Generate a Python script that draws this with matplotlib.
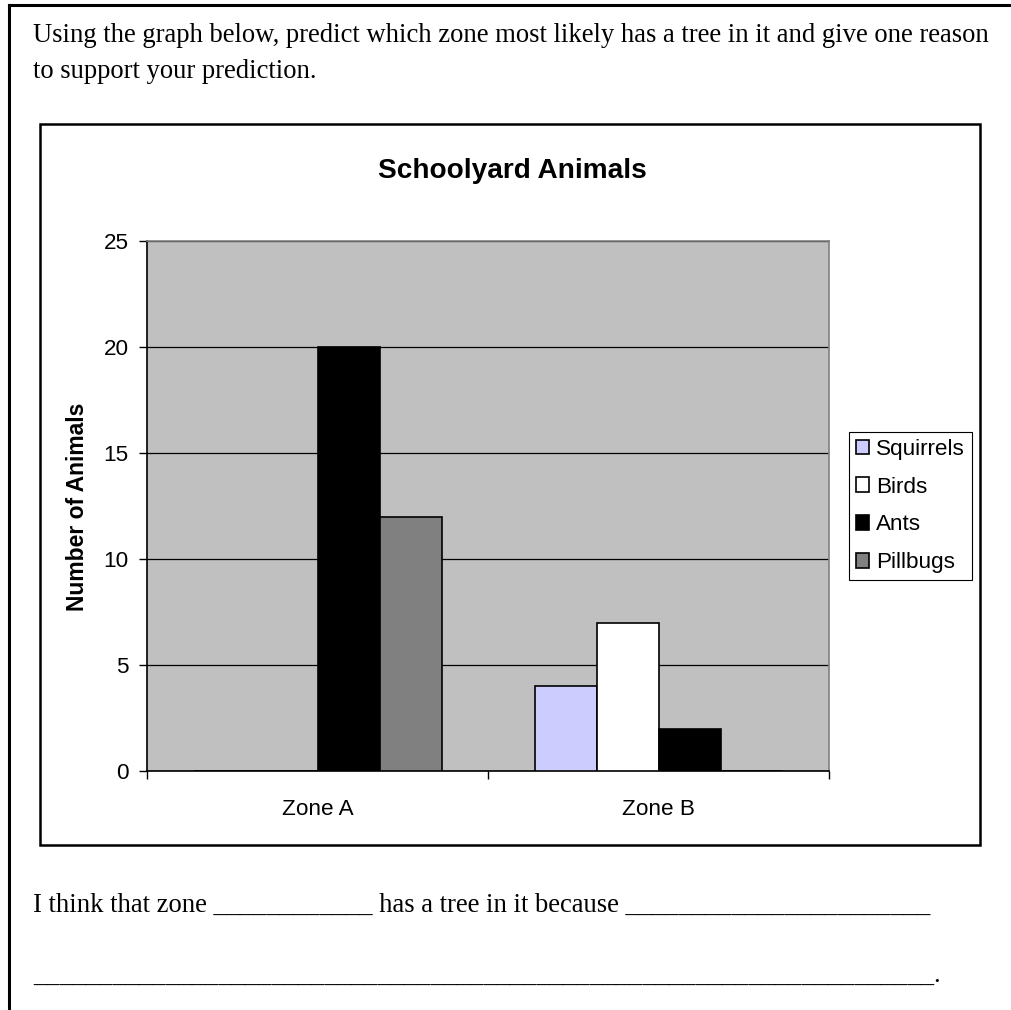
import numpy as np
import matplotlib
matplotlib.use("Agg")
import matplotlib.pyplot as plt
from matplotlib.patches import Rectangle
from matplotlib.lines import Line2D

zones = ["Zone A", "Zone B"]
series = ["Squirrels", "Birds", "Ants", "Pillbugs"]
squirrels = [0, 4]
birds = [0, 7]
ants = [20, 2]
pillbugs = [12, 0]
colors = ["#CCCCFF", "#FFFFFF", "#000000", "#808080"]
y_ticks = [0, 5, 10, 15, 20, 25]

question = ["Using the graph below, predict which zone most likely has a tree in it and give one reason",
            "to support your prediction."]
answer_1 = "I think that zone ____________ has a tree in it because _______________________"
answer_2 = "____________________________________________________________________."

SERIF = "Liberation Serif"
SANS = "Liberation Sans"
BODY = 19.2
LABEL = 16.2

fig = plt.figure(figsize=(10.12, 10.10), dpi=100)
fig.patch.set_facecolor("white")


def fy(py):
    # pixel row from the top -> figure fraction
    return 1 - py / 1010


# worksheet frame: top and left edges only
fig.add_artist(Line2D([9 / 1012, 1.0], [fy(5), fy(5)], color="black", lw=2.2,
                      transform=fig.transFigure))
fig.add_artist(Line2D([9 / 1012, 9 / 1012], [0.0, fy(5)], color="black", lw=2.2,
                      transform=fig.transFigure))

for line, py in zip(question, [35, 71]):
    fig.text(33 / 1012, fy(py), line, family=SERIF, fontsize=BODY, va="center", ha="left")

# chart border
fig.add_artist(Rectangle((40 / 1012, fy(845)), 940 / 1012, 721 / 1010, fill=False,
                         edgecolor="black", lw=1.8, transform=fig.transFigure))

ax = fig.add_axes([147 / 1012, fy(771), 682 / 1012, 530 / 1010])
ax.set_facecolor("#C0C0C0")

x = np.arange(len(zones))
width = 62 / 341
values = [squirrels, birds, ants, pillbugs]
for i, (name, vals, c) in enumerate(zip(series, values, colors)):
    offset = (i - len(series) / 2) * width + width / 2
    ax.bar(x + offset, vals, width=width, color=c, edgecolor="black", linewidth=1.2, label=name,
           zorder=3)

ax.set_xlim(-0.5, 1.5)
ax.set_ylim(0, 25)
ax.set_yticks(y_ticks)
ax.set_yticklabels([str(t) for t in y_ticks], family=SANS, fontsize=LABEL)
ax.yaxis.grid(True, color="black", lw=0.9, zorder=1)
ax.set_axisbelow(True)
ax.tick_params(axis="y", direction="out", length=6, width=1, pad=7)

# category ticks sit between the zones, labels centred under each zone
ax.set_xticks([-0.5, 0.5, 1.5])
ax.set_xticklabels([])
ax.set_xticks(x, minor=True)
ax.set_xticklabels(zones, minor=True, family=SANS, fontsize=LABEL)
ax.tick_params(axis="x", which="major", direction="out", length=6, width=1)
ax.tick_params(axis="x", which="minor", length=0, pad=20)

for side in ["top", "right"]:
    ax.spines[side].set_color("#808080")
    ax.spines[side].set_linewidth(1.2)
for side in ["left", "bottom"]:
    ax.spines[side].set_color("black")
    ax.spines[side].set_linewidth(1.2)

fig.text(512 / 1012, fy(171), "Schoolyard Animals", family=SANS, fontsize=20.2,
         fontweight="bold", ha="center", va="center")
fig.text(78 / 1012, fy(507), "Number of Animals", family=SANS, fontsize=16.5,
         fontweight="bold", ha="center", va="center", rotation=90)

leg = ax.legend(loc="center left", bbox_to_anchor=(849 / 1012, fy(506)),
                bbox_transform=fig.transFigure, prop={"family": SANS, "size": LABEL},
                frameon=True, fancybox=False, framealpha=1, edgecolor="black",
                handlelength=0.6, handleheight=0.6, handletextpad=0.3,
                labelspacing=0.75, borderpad=0.3, borderaxespad=0)
leg.get_frame().set_linewidth(0.8)

fig.text(33 / 1012, fy(905), answer_1, family=SERIF, fontsize=BODY, va="center", ha="left")
fig.text(33 / 1012, fy(975), answer_2, family=SERIF, fontsize=BODY, va="center", ha="left")

fig.savefig("out.png", dpi=100, facecolor="white")
